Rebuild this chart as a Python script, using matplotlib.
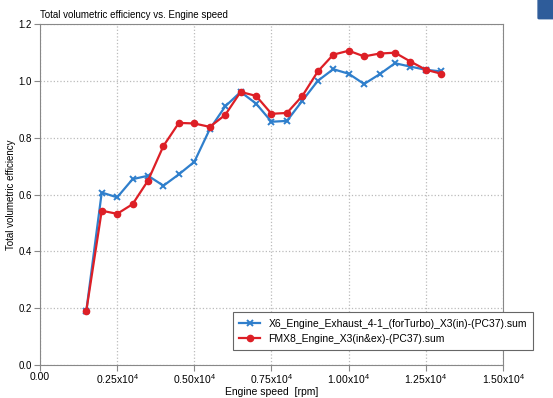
import numpy as np
import matplotlib
matplotlib.use("Agg")
import matplotlib.pyplot as plt
from matplotlib.patches import FancyBboxPatch

plt.rcParams['font.family'] = ['Liberation Sans', 'DejaVu Sans']
plt.rcParams['mathtext.fontset'] = 'custom'
plt.rcParams['mathtext.rm'] = 'Liberation Sans'

# regime moteur (tr/min)
regime = [1500, 2000, 2500, 3000, 3500, 4000, 4500, 5000, 5500, 6000, 6500, 7000,
          7500, 8000, 8500, 9000, 9500, 10000, 10500, 11000, 11500, 12000, 12500, 13000]

# rendement volumetrique total
eff_x6 = [0.19, 0.607, 0.59, 0.654, 0.666, 0.631, 0.671, 0.715, 0.83, 0.91, 0.961, 0.92,
          0.856, 0.859, 0.93, 1.0, 1.041, 1.025, 0.989, 1.023, 1.062, 1.05, 1.039, 1.033]
eff_fmx8 = [0.19, 0.543, 0.532, 0.566, 0.649, 0.771, 0.852, 0.85, 0.838, 0.88, 0.961, 0.947,
            0.884, 0.887, 0.947, 1.033, 1.092, 1.106, 1.086, 1.096, 1.099, 1.068, 1.039, 1.025]

nom_x6 = "X6_Engine_Exhaust_4-1_(forTurbo)_X3(in)-(PC37).sum"
nom_fmx8 = "FMX8_Engine_X3(in&ex)-(PC37).sum"

x_ticks = [0, 2500, 5000, 7500, 10000, 12500, 15000]
x_labels = ["0.00", r"0.25x10$^\mathrm{4}$", r"0.50x10$^\mathrm{4}$", r"0.75x10$^\mathrm{4}$",
            r"1.00x10$^\mathrm{4}$", r"1.25x10$^\mathrm{4}$", r"1.50x10$^\mathrm{4}$"]
y_ticks = [0.0, 0.2, 0.4, 0.6, 0.8, 1.0, 1.2]

fig = plt.figure(figsize=(5.53, 3.98), dpi=100)
ax = fig.add_axes([0.0723, 0.0829, 0.8373, 0.8568])

ax.plot(regime, eff_x6, color='#2f7fcc', lw=1.6, marker='x', ms=5, mew=1.4,
        label=nom_x6)
ax.plot(regime, eff_fmx8, color='#dd1f26', lw=1.6, marker='o', ms=4.5,
        label=nom_fmx8)

ax.set_xlim(0, 15000)
ax.set_ylim(0, 1.2)
ax.set_xticks(x_ticks)
ax.set_xticklabels(x_labels)
ax.set_yticks(y_ticks)
ax.set_yticklabels([f"{v:.1f}" for v in y_ticks])
ax.tick_params(labelsize=7, length=4, color='#888888', pad=2)
ax.tick_params(axis='x', labelsize=7.5, pad=1)
for s in ax.spines.values():
    s.set_color('#888888')
ax.grid(True, ls=':', color='#bbbbbb', lw=0.9)

ax.set_xlabel("Engine speed  [rpm]", fontsize=7.5)
ax.set_ylabel("Total volumetric efficiency", fontsize=7)
ax.xaxis.set_label_coords(0.5, -0.064)
ax.yaxis.set_label_coords(-0.052, 0.5)
fig.text(0.0723, 0.955, "Total volumetric efficiency vs. Engine speed", fontsize=7)

leg = ax.legend(loc='lower right', bbox_to_anchor=(1.065, 0.044), borderaxespad=0,
                fontsize=7.5, fancybox=False, edgecolor='#666666', framealpha=1,
                handlelength=2.0, borderpad=0.6)
leg.get_frame().set_linewidth(0.8)

# petit bouton bleu en haut a droite
fig.patches.append(FancyBboxPatch((0.975, 0.955), 0.04, 0.06,
                                  boxstyle="round,pad=0.002", transform=fig.transFigure,
                                  color='#2e5c9a', figure=fig))

fig.savefig("out.png", dpi=100)
